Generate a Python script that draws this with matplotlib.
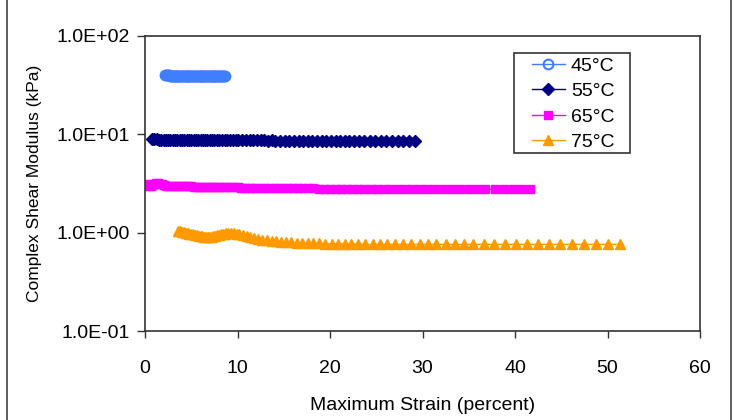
import matplotlib
matplotlib.use("Agg")
import matplotlib.pyplot as plt
import matplotlib.ticker as mticker
from matplotlib.patches import Rectangle

plt.rcParams["font.family"] = ["Liberation Sans", "DejaVu Sans"]

# ── Data ─────────────────────────────────────────────────────────────────────
strain_45 = [2.2, 2.3, 2.4, 2.5, 2.6, 2.7, 2.8, 2.9, 3.0, 3.1,
             3.2, 3.3, 3.4, 3.5, 3.6, 3.7, 3.8, 3.9, 4.0, 4.1,
             4.2, 4.3, 4.4, 4.5, 4.6, 4.7, 4.8, 4.9, 5.0, 5.1,
             5.2, 5.3, 5.4, 5.5, 5.6, 5.7, 5.8, 5.9, 6.0, 6.1,
             6.2, 6.3, 6.4, 6.5, 6.6, 6.7, 6.8, 6.9, 7.0, 7.1,
             7.2, 7.3, 7.4, 7.5, 7.6, 7.7, 7.8, 7.9, 8.0, 8.1,
             8.2, 8.3, 8.4, 8.5, 8.6]
modulus_45 = [39.8, 39.8, 39.7, 39.7, 39.7, 39.6, 39.6, 39.6, 39.6, 39.5,
              39.5, 39.5, 39.5, 39.5, 39.5, 39.5, 39.5, 39.5, 39.5, 39.5,
              39.5, 39.5, 39.5, 39.5, 39.4, 39.4, 39.4, 39.4, 39.4, 39.4,
              39.4, 39.4, 39.4, 39.4, 39.4, 39.4, 39.4, 39.4, 39.4, 39.4,
              39.4, 39.4, 39.4, 39.3, 39.3, 39.3, 39.3, 39.3, 39.3, 39.3,
              39.3, 39.3, 39.3, 39.3, 39.3, 39.3, 39.3, 39.3, 39.3, 39.3,
              39.3, 39.3, 39.3, 39.3, 39.3]

strain_55 = [0.75, 1.0, 1.25, 1.5, 1.75, 2.0, 2.25, 2.5, 2.75, 3.0,
             3.25, 3.5, 3.75, 4.0, 4.25, 4.5, 4.75, 5.0, 5.25, 5.5,
             5.75, 6.0, 6.25, 6.5, 6.75, 7.0, 7.25, 7.5, 7.75, 8.0,
             8.3, 8.6, 8.9, 9.2, 9.5, 9.8, 10.1, 10.5, 10.9, 11.3,
             11.7, 12.1, 12.5, 12.9, 13.3, 13.7, 14.1, 14.6, 15.1, 15.6,
             16.1, 16.6, 17.1, 17.6, 18.1, 18.6, 19.1, 19.6, 20.1, 20.6,
             21.1, 21.6, 22.1, 22.6, 23.1, 23.7, 24.3, 24.9, 25.5, 26.1,
             26.7, 27.3, 27.9, 28.5, 29.2]
modulus_55 = [8.95, 8.9, 8.9, 8.85, 8.85, 8.8, 8.8, 8.8, 8.8, 8.8,
              8.75, 8.8, 8.75, 8.75, 8.8, 8.75, 8.75, 8.75, 8.7, 8.75,
              8.75, 8.7, 8.7, 8.75, 8.7, 8.7, 8.7, 8.7, 8.75, 8.7,
              8.7, 8.7, 8.7, 8.7, 8.7, 8.7, 8.7, 8.7, 8.7, 8.7,
              8.7, 8.7, 8.7, 8.7, 8.65, 8.7, 8.65, 8.65, 8.65, 8.65,
              8.65, 8.65, 8.65, 8.65, 8.65, 8.65, 8.65, 8.65, 8.65, 8.6,
              8.6, 8.6, 8.6, 8.6, 8.6, 8.6, 8.6, 8.6, 8.6, 8.6,
              8.6, 8.6, 8.6, 8.6, 8.6]

strain_65 = [0.2, 0.4, 0.6, 0.8, 1.0, 1.2, 1.4, 1.6, 1.8, 2.0,
             2.3, 2.6, 2.9, 3.2, 3.5, 3.8, 4.1, 4.4, 4.7, 5.0,
             5.3, 5.6, 5.9, 6.2, 6.5, 6.8, 7.1, 7.4, 7.7, 8.0,
             8.4, 8.8, 9.2, 9.6, 10.0, 10.4, 10.8, 11.2, 11.6, 12.0,
             12.5, 13.0, 13.5, 14.0, 14.5, 15.0, 15.5, 16.0, 16.5, 17.0,
             17.6, 18.2, 18.8, 19.4, 20.0, 20.6, 21.2, 21.8, 22.4, 23.0,
             23.7, 24.4, 25.1, 25.8, 26.5, 27.3, 28.1, 28.9, 29.7, 30.5,
             31.4, 32.3, 33.2, 34.1, 35.0, 35.9, 36.8, 37.8, 38.8, 39.8,
             40.7, 41.6]
modulus_65 = [3.10, 3.00, 2.95, 3.05, 3.15, 3.20, 3.20, 3.15, 3.10, 3.05,
              3.00, 3.00, 2.98, 2.97, 2.97, 2.96, 2.96, 2.95, 2.95, 2.95,
              2.94, 2.94, 2.93, 2.93, 2.92, 2.92, 2.92, 2.91, 2.91, 2.90,
              2.90, 2.89, 2.89, 2.88, 2.88, 2.87, 2.87, 2.87, 2.86, 2.86,
              2.85, 2.85, 2.85, 2.84, 2.84, 2.84, 2.83, 2.83, 2.83, 2.82,
              2.82, 2.82, 2.81, 2.81, 2.81, 2.80, 2.80, 2.80, 2.80, 2.79,
              2.79, 2.79, 2.79, 2.78, 2.78, 2.78, 2.78, 2.78, 2.77, 2.77,
              2.77, 2.77, 2.77, 2.77, 2.76, 2.76, 2.76, 2.76, 2.76, 2.76,
              2.76, 2.76]

strain_75 = [3.6, 3.8, 4.0, 4.2, 4.4, 4.6, 4.8, 5.0, 5.2, 5.4,
             5.6, 5.8, 6.0, 6.2, 6.4, 6.6, 6.8, 7.0, 7.2, 7.4,
             7.6, 7.8, 8.0, 8.2, 8.4, 8.6, 8.8, 9.0, 9.3, 9.6,
             9.9, 10.2, 10.6, 11.0, 11.4, 11.8, 12.2, 12.7, 13.2, 13.7,
             14.2, 14.7, 15.2, 15.8, 16.4, 17.0, 17.6, 18.2, 18.8, 19.5,
             20.2, 20.9, 21.6, 22.3, 23.0, 23.8, 24.6, 25.4, 26.2, 27.0,
             27.9, 28.8, 29.7, 30.6, 31.5, 32.5, 33.5, 34.5, 35.5, 36.6,
             37.7, 38.9, 40.1, 41.3, 42.5, 43.7, 44.9, 46.2, 47.5, 48.8,
             50.0, 51.3]
modulus_75 = [1.04, 1.03, 1.02, 1.01, 1.00, 0.99, 0.98, 0.97, 0.96, 0.95,
              0.94, 0.93, 0.92, 0.92, 0.91, 0.91, 0.91, 0.91, 0.91, 0.92,
              0.93, 0.94, 0.95, 0.96, 0.97, 0.98, 0.99, 0.99, 1.00, 0.99,
              0.98, 0.96, 0.94, 0.92, 0.90, 0.88, 0.86, 0.85, 0.84, 0.83,
              0.82, 0.81, 0.80, 0.80, 0.79, 0.79, 0.78, 0.78, 0.78, 0.77,
              0.77, 0.77, 0.77, 0.77, 0.77, 0.76, 0.76, 0.76, 0.76, 0.76,
              0.76, 0.76, 0.76, 0.76, 0.76, 0.76, 0.76, 0.76, 0.76, 0.76,
              0.76, 0.76, 0.76, 0.76, 0.76, 0.76, 0.76, 0.76, 0.76, 0.76,
              0.76, 0.76]

y_ticks = [0.1, 1.0, 10.0, 100.0]
x_ticks = [0, 10, 20, 30, 40, 50, 60]

fig = plt.figure(figsize=(7.35, 4.2), dpi=100, facecolor="white")
ax = fig.add_axes([0.1973, 0.2119, 0.7551, 0.7024])

ax.plot(strain_45, modulus_45, color="#3f7fff", marker="o", markersize=7,
        markerfacecolor="none", markeredgewidth=1.5, linewidth=1, label="45°C")
ax.plot(strain_55, modulus_55, color="#000080", marker="D", markersize=6.5,
        linewidth=1, label="55°C")
ax.plot(strain_65, modulus_65, color="#ff00ff", marker="s", markersize=5.3,
        linewidth=1, label="65°C")
ax.plot(strain_75, modulus_75, color="#ff9900", marker="^", markersize=7,
        linewidth=1, label="75°C")

ax.set_yscale("log")
ax.set_ylim(0.1, 100)
ax.set_xlim(0, 60)
ax.set_yticks(y_ticks)
ax.yaxis.set_major_formatter(mticker.FuncFormatter(lambda v, p: f"{v:.1E}"))
ax.yaxis.set_minor_locator(mticker.NullLocator())
ax.set_xticks(x_ticks)

for spine in ax.spines.values():
    spine.set_color("#333333")
    spine.set_linewidth(1.2)
ax.tick_params(axis="y", direction="out", length=6, width=1, pad=5,
               labelsize=14, color="#333333")
ax.tick_params(axis="x", direction="out", length=5, width=1, pad=16,
               labelsize=14, color="#333333")

ax.set_xlabel("Maximum Strain (percent)", fontsize=14, labelpad=14)
ax.set_ylabel("Complex Shear Modulus (kPa)", fontsize=12.5, labelpad=10)

# legend without its own frame; the box is drawn separately
leg = ax.legend(loc="upper left", bbox_to_anchor=(0.697, 0.928), fontsize=14,
                numpoints=1, handlelength=1.7, labelspacing=0.4,
                handletextpad=0.3, borderpad=0, borderaxespad=0,
                frameon=False)
ax.add_patch(Rectangle((0.665, 0.603), 0.209, 0.339, transform=ax.transAxes,
                       facecolor="white", edgecolor="#333333",
                       linewidth=1.2, zorder=4))
leg.set_zorder(5)

# outer chart border (left and right edges visible)
fig.patches.append(Rectangle((7 / 735, -0.01), 724 / 735, 1.02,
                             transform=fig.transFigure, fill=False,
                             edgecolor="#444444", linewidth=1.2))

fig.savefig("out.png", dpi=100, facecolor="white")
